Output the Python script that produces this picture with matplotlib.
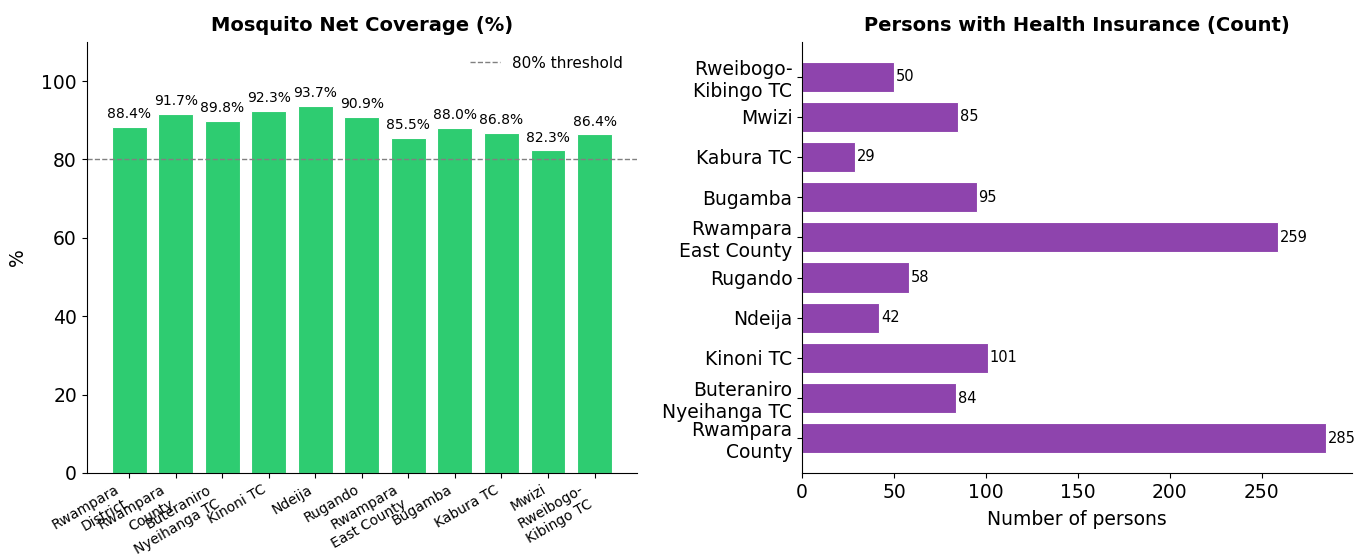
import numpy as np
import matplotlib
matplotlib.use('Agg')
import matplotlib.pyplot as plt

# left panel data
net_places = ['Rwampara\nDistrict', 'Rwampara\nCounty', 'Buteraniro\nNyeihanga TC', 'Kinoni TC', 'Ndeija',
              'Rugando', 'Rwampara\nEast County', 'Bugamba', 'Kabura TC', 'Mwizi', 'Rweibogo-\nKibingo TC']
net_cov = [88.4, 91.7, 89.8, 92.3, 93.7, 90.9, 85.5, 88.0, 86.8, 82.3, 86.4]

# right panel data (bottom to top)
ins_places = ['Rwampara\nCounty', 'Buteraniro\nNyeihanga TC', 'Kinoni TC', 'Ndeija', 'Rugando',
              'Rwampara\nEast County', 'Bugamba', 'Kabura TC', 'Mwizi', 'Rweibogo-\nKibingo TC']
ins_count = [285, 84, 101, 42, 58, 259, 95, 29, 85, 50]

threshold = 80

fig, (ax1, ax2) = plt.subplots(1, 2, figsize=(13.55, 5.59), dpi=100)
fig.subplots_adjust(left=0.064, right=0.998, top=0.925, bottom=0.154, wspace=0.30)

x = np.arange(len(net_places))
bars = ax1.bar(x, net_cov, width=0.75, color='#2ecc71', edgecolor='white', linewidth=0.8)
ax1.axhline(threshold, color='gray', ls='--', lw=1, label='80% threshold')
for b, v in zip(bars, net_cov):
    ax1.text(b.get_x() + b.get_width() / 2, v + 1.5, f'{v:.1f}%', ha='center', va='bottom', fontsize=10)
ax1.set_xticks(x)
ax1.set_xticklabels(net_places, rotation=30, ha='right', fontsize=10)
ax1.set_ylim(0, 110)
ax1.set_ylabel('%', fontsize=13.5, labelpad=10)
ax1.tick_params(axis='y', labelsize=13.5)
ax1.set_title('Mosquito Net Coverage (%)', fontsize=14, fontweight='bold', pad=8)
ax1.legend(frameon=False, fontsize=11, loc='upper right')
ax1.spines['top'].set_visible(False)
ax1.spines['right'].set_visible(False)

y = np.arange(len(ins_places))
hb = ax2.barh(y, ins_count, height=0.75, color='#8e44ad', edgecolor='white', linewidth=0.8)
for b, v in zip(hb, ins_count):
    ax2.text(v + 1, b.get_y() + b.get_height() / 2, str(v), va='center', ha='left', fontsize=10.5)
ax2.set_yticks(y)
ax2.set_yticklabels(ins_places, fontsize=13.5)
ax2.set_xlim(0, max(ins_count) * 1.05)
ax2.tick_params(axis='x', labelsize=13.5)
ax2.set_xlabel('Number of persons', fontsize=13.5, labelpad=6)
ax2.set_title('Persons with Health Insurance (Count)', fontsize=14, fontweight='bold', pad=8)
ax2.spines['top'].set_visible(False)
ax2.spines['right'].set_visible(False)

plt.savefig('out.png', dpi=100)
